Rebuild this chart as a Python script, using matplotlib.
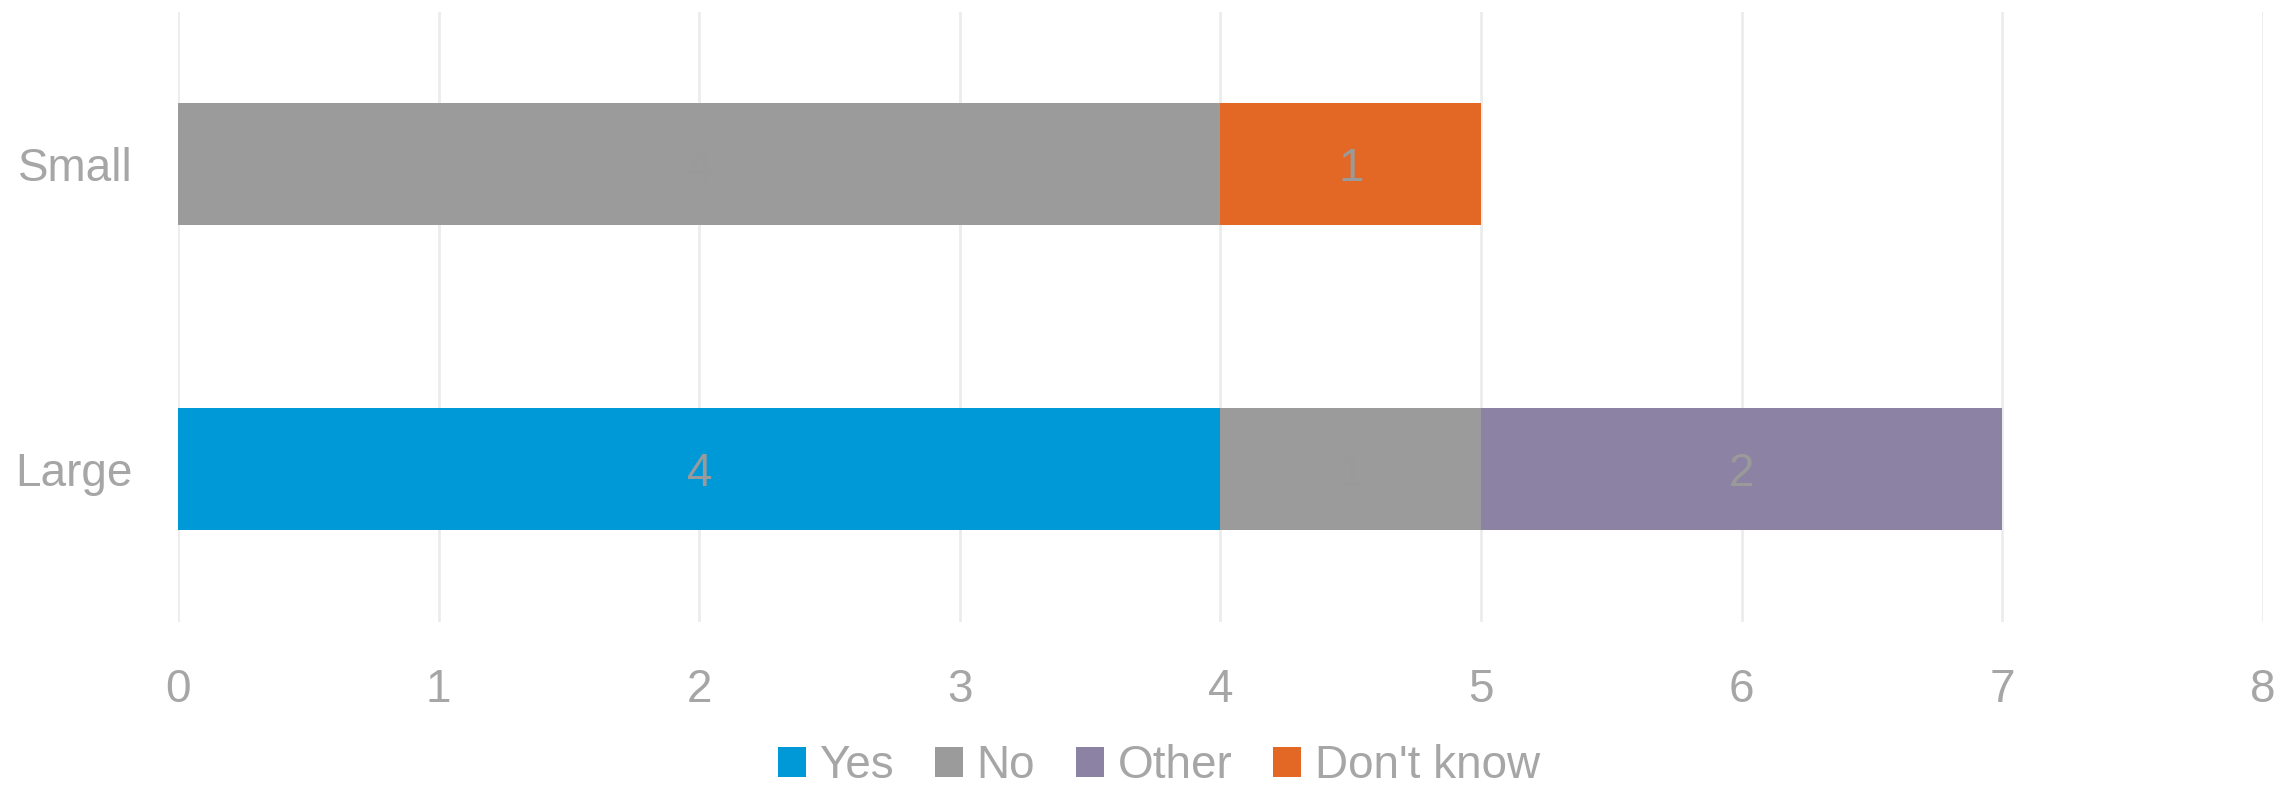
import matplotlib
matplotlib.use("Agg")
import matplotlib.pyplot as plt
import numpy as np

plt.rcParams['font.family'] = ['Liberation Sans', 'DejaVu Sans']

categories = ["Large", "Small"]
series_names = ["Yes", "No", "Other", "Don't know"]
yes = [4, 0]
no = [1, 4]
other = [2, 0]
dont_know = [0, 1]
colors = ["#0099d8", "#9b9b9b", "#8c82a3", "#e36725"]
x_ticks = [0, 1, 2, 3, 4, 5, 6, 7, 8]

FS = 33

fig = plt.figure(figsize=(22.95, 7.89), dpi=100)
ax = fig.add_axes([0.0776, 0.2117, 0.9084, 0.7731])

y = np.arange(len(categories))
left = np.zeros(len(categories))
label_color = "#9a9a9a"
for name, vals, col in zip(series_names, [yes, no, other, dont_know], colors):
    vals = np.array(vals, dtype=float)
    bars = ax.barh(y, vals, left=left, height=0.4, color=col, label=name, zorder=3)
    for b, v in zip(bars, vals):
        if v > 0:
            ax.annotate(str(int(v)), (b.get_x() + b.get_width() / 2, b.get_y() + b.get_height() / 2),
                        xytext=(0, -3), textcoords='offset points', ha='center', va='center',
                        color=label_color, fontsize=FS, zorder=4)
    left += vals

ax.set_xlim(0, 8)
ax.set_ylim(-0.5, 1.5)
ax.set_xticks(x_ticks)
ax.set_yticks(y)
ax.set_yticklabels(categories)
ax.grid(axis='x', color='#ececec', linewidth=2, zorder=0)
ax.set_axisbelow(True)
for s in ax.spines.values():
    s.set_visible(False)
ax.tick_params(axis='both', length=0, labelsize=FS, labelcolor='#a6a6a6')
ax.tick_params(axis='x', pad=33)
ax.tick_params(axis='y', pad=33)

leg = fig.legend(loc='center', bbox_to_anchor=(0.505, 0.029), ncol=4, frameon=False,
                 fontsize=FS, handlelength=0.6, handleheight=0.6, handletextpad=0.3,
                 columnspacing=0.9, labelcolor='#a6a6a6', borderaxespad=0, borderpad=0)

fig.savefig("out.png", dpi=100)
